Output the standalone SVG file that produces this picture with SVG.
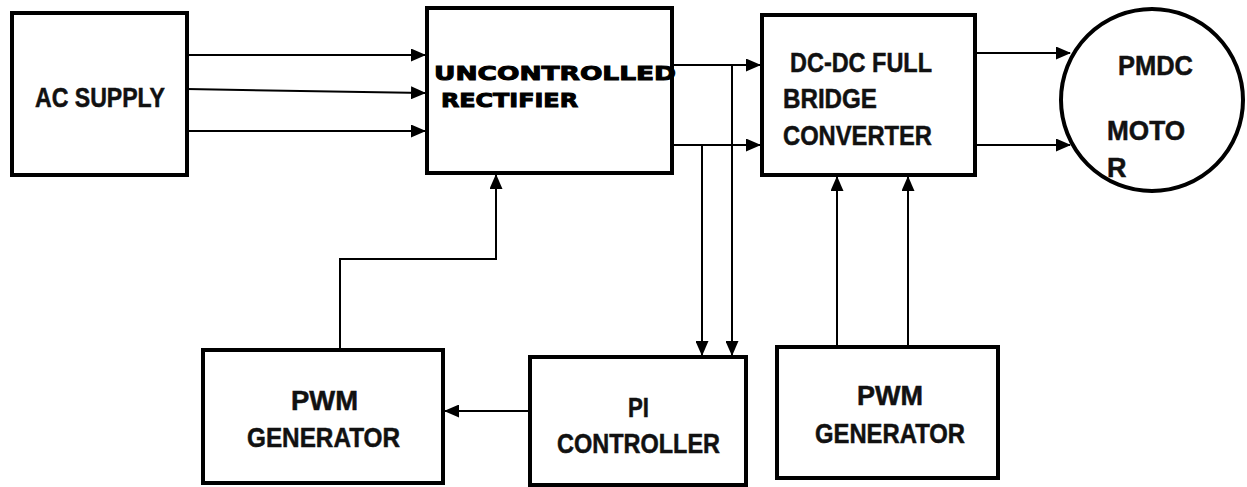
<svg xmlns="http://www.w3.org/2000/svg" width="1247" height="487" viewBox="0 0 1247 487">
<style>
.box{fill:#fff;stroke:#000;stroke-width:4}
.ln{fill:none;stroke:#000;stroke-width:2}
.t{font-family:"Liberation Sans",Arial,sans-serif;font-weight:bold;font-size:27px;fill:#111;stroke:#111;stroke-width:0.5}
.h{font-family:"DejaVu Sans",sans-serif;font-weight:bold;font-size:20px;fill:#000;stroke:#000;stroke-width:1}
</style>
<defs>
<marker id="ar" markerUnits="userSpaceOnUse" markerWidth="15" markerHeight="13" refX="14" refY="6.5" orient="auto">
<path d="M0,0 L15,6.5 L0,13 Z" fill="#000"/>
</marker>
</defs>
<rect width="1247" height="487" fill="#fff"/>
<g id="connectors">
<line class="ln" x1="187" y1="55" x2="425" y2="55" marker-end="url(#ar)"/>
<line class="ln" x1="187" y1="89" x2="425" y2="93" marker-end="url(#ar)"/>
<line class="ln" x1="187" y1="131" x2="425" y2="131" marker-end="url(#ar)"/>
<line class="ln" x1="672" y1="65" x2="760" y2="65" marker-end="url(#ar)"/>
<line class="ln" x1="672" y1="145" x2="760" y2="145" marker-end="url(#ar)"/>
<polyline class="ln" points="732,65 732,355" marker-end="url(#ar)"/>
<polyline class="ln" points="702,145 702,355" marker-end="url(#ar)"/>
<line class="ln" x1="975" y1="53" x2="1070" y2="53" marker-end="url(#ar)"/>
<line class="ln" x1="975" y1="145" x2="1070" y2="145" marker-end="url(#ar)"/>
<polyline class="ln" points="340,350 340,259 496,259 496,175" marker-end="url(#ar)"/>
<line class="ln" x1="530" y1="411" x2="445" y2="411" marker-end="url(#ar)"/>
<line class="ln" x1="837" y1="347" x2="837" y2="177" marker-end="url(#ar)"/>
<line class="ln" x1="908" y1="347" x2="908" y2="177" marker-end="url(#ar)"/>
</g>
<g id="ac-supply">
<rect class="box" x="12" y="13" width="175" height="162"/>
<text class="t" x="35" y="107" textLength="130" lengthAdjust="spacingAndGlyphs">AC SUPPLY</text>
</g>
<g id="rectifier">
<rect class="box" x="427" y="8" width="245" height="165"/>
<text class="h" x="434" y="80" textLength="242" lengthAdjust="spacingAndGlyphs">UNCONTROLLED</text>
<text class="h" x="441" y="107" textLength="137" lengthAdjust="spacingAndGlyphs">RECTIFIER</text>
</g>
<g id="dc-dc">
<rect class="box" x="762" y="15" width="213" height="160"/>
<text class="t" x="790" y="72" textLength="142" lengthAdjust="spacingAndGlyphs">DC-DC FULL</text>
<text class="t" x="783" y="108" textLength="94" lengthAdjust="spacingAndGlyphs">BRIDGE</text>
<text class="t" x="783" y="145" textLength="149" lengthAdjust="spacingAndGlyphs">CONVERTER</text>
</g>
<g id="motor">
<ellipse cx="1152" cy="100" rx="91" ry="91" fill="#fff" stroke="#000" stroke-width="4"/>
<text class="t" x="1118" y="75" textLength="75" lengthAdjust="spacingAndGlyphs">PMDC</text>
<text class="t" x="1107" y="140" textLength="78" lengthAdjust="spacingAndGlyphs">MOTO</text>
<text class="t" x="1107" y="177">R</text>
</g>
<g id="pwm-left">
<rect class="box" x="203" y="350" width="240" height="133"/>
<text class="t" x="291" y="410" textLength="67" lengthAdjust="spacingAndGlyphs">PWM</text>
<text class="t" x="247" y="447" textLength="153" lengthAdjust="spacingAndGlyphs">GENERATOR</text>
</g>
<g id="pi-controller">
<rect class="box" x="530" y="357" width="216" height="128"/>
<text class="t" x="628" y="417" textLength="21" lengthAdjust="spacingAndGlyphs">PI</text>
<text class="t" x="557" y="453" textLength="163" lengthAdjust="spacingAndGlyphs">CONTROLLER</text>
</g>
<g id="pwm-right">
<rect class="box" x="777" y="347" width="221" height="131"/>
<text class="t" x="857" y="405" textLength="66" lengthAdjust="spacingAndGlyphs">PWM</text>
<text class="t" x="815" y="443" textLength="150" lengthAdjust="spacingAndGlyphs">GENERATOR</text>
</g>
</svg>
